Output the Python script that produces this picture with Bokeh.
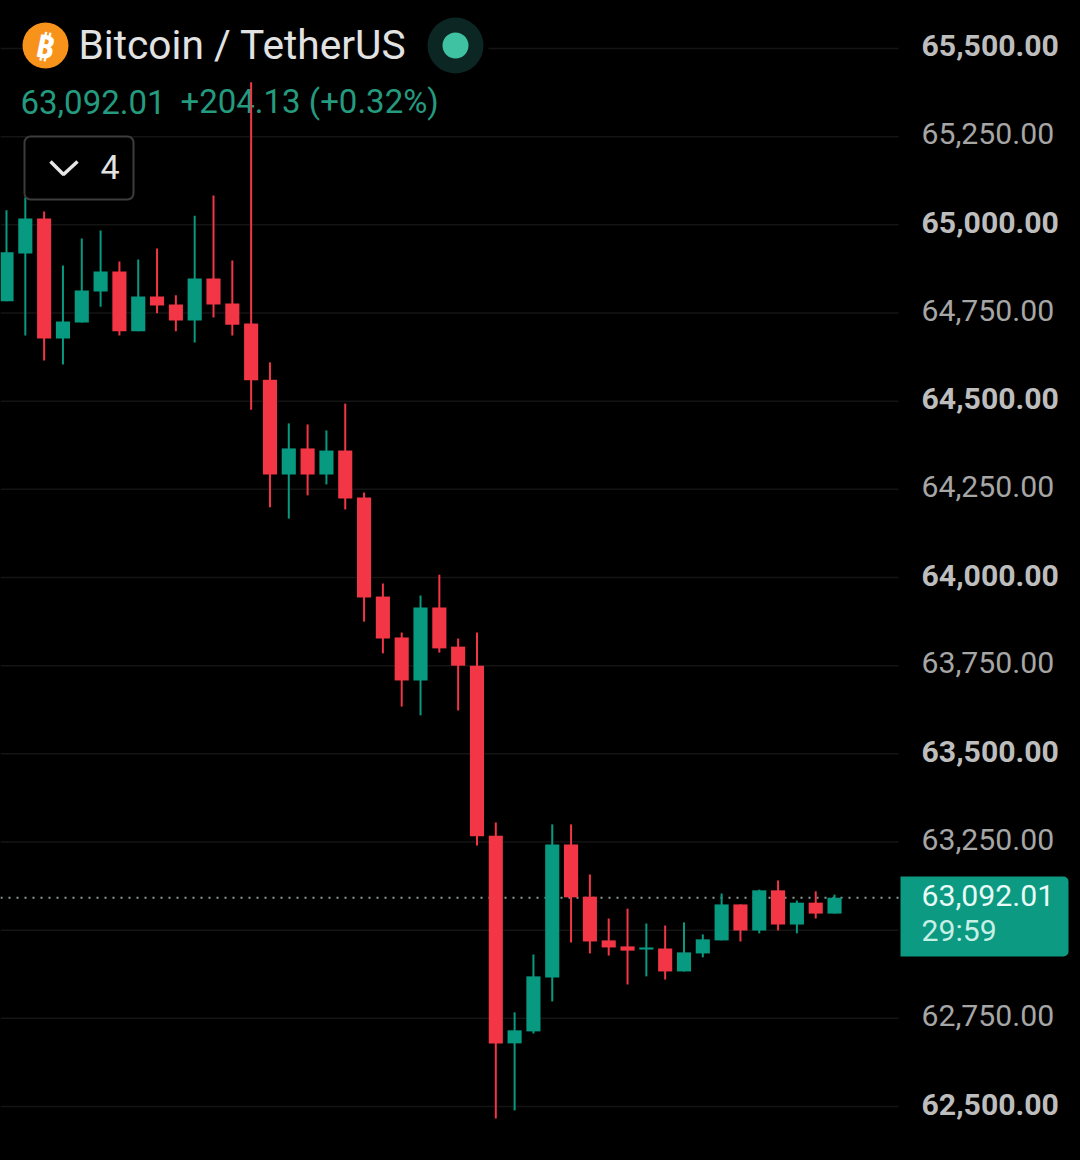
from bokeh.plotting import figure
from bokeh.models import Range1d, BoxAnnotation, ColumnDataSource
from bokeh.core.properties import value
from bokeh.embed import file_html
from bokeh.resources import INLINE

opens = [64783,64919,65018,64678,64723,64811,64868,64698,64797,64774,64729,64848,64777,64720,64561,
         64292,64366,64292,64360,64227,63946,63830,63708,63915,63804,63750,63268,62679,62713,62866,
         63243,63095,62971,62954,62945,62948,62883,62934,62971,63073,62999,63113,63016,63078,63047]
highs = [65041,65078,65038,64885,64961,64984,64896,64902,64933,64800,65026,65083,64899,65404,64610,
         64437,64434,64417,64493,64241,63983,63844,63949,64008,63827,63844,63305,62767,62931,63300,
         63300,63158,63033,63061,63019,63013,63022,62988,63104,63073,63115,63141,63084,63110,63101]
lows = [64783,64686,64615,64604,64723,64768,64686,64698,64749,64698,64666,64737,64686,64476,64199,
        64167,64233,64264,64193,63875,63785,63634,63609,63787,63623,63240,62466,62489,62707,62798,
        62965,62934,62928,62846,62869,62860,62883,62923,62971,62968,62991,62999,62991,63033,63047]
closes = [64922,65018,64678,64726,64814,64868,64698,64797,64771,64729,64848,64774,64717,64559,64292,
          64366,64292,64360,64224,63943,63827,63708,63915,63799,63750,63266,62679,62716,62869,63243,
          63093,62968,62951,62942,62951,62883,62937,62974,63073,62999,63113,63016,63078,63047,63092]
tick_values = [65500,65250,65000,64750,64500,64250,64000,63750,63500,63250,62750,62500]
tick_labels = ["65,500.00","65,250.00","65,000.00","64,750.00","64,500.00","64,250.00",
               "64,000.00","63,750.00","63,500.00","63,250.00","62,750.00","62,500.00"]
grid_values = [65500,65250,65000,64750,64500,64250,64000,63750,63500,63250,63000,62750,62500]
last_price = 63092.01
title_text = "Bitcoin / TetherUS"
price_text = "63,092.01"
change_text = "+204.13 (+0.32%)"
countdown_text = "29:59"
interval_text = "4"

RED, GREEN = "#f23645", "#089981"
FONT = value("Roboto")

p = figure(width=1080, height=1160, output_backend="svg", toolbar_location=None,
           x_range=Range1d(-0.3188, 57.07), y_range=Range1d(62346.9, 65636.1),
           background_fill_color="#000000", border_fill_color="#000000",
           min_border=0, outline_line_color=None)
p.axis.visible = False
p.grid.visible = False
p.extra_x_ranges = {"px": Range1d(0, 1080)}
p.extra_y_ranges = {"px": Range1d(1160, 0)}
PX = dict(x_range_name="px", y_range_name="px")

# grid and last price line
p.segment(x0=[0]*len(grid_values), x1=[898]*len(grid_values), y0=grid_values, y1=grid_values,
          x_range_name="px", line_color="#141414", line_width=1.5)
p.segment(x0=[0], x1=[900], y0=[last_price], y1=[last_price], x_range_name="px",
          line_color="#8a9e99", line_width=2, line_dash="2 6")

# header background hides the top grid line
p.quad(left=[30], right=[488], top=[20], bottom=[72], fill_color="#000000", line_color=None, **PX)

# header
p.scatter(x=[45], y=[45], size=46, marker="circle", fill_color="#f7931a", line_color=None, **PX)
p.text(x=[45], y=[45], text=["₿"], text_font=value("Noto Sans"), text_font_size="32px", text_font_style="bold",
       text_color="#ffffff", text_align="center", text_baseline="middle", angle=[-0.2], **PX)
p.text(x=[78], y=[44], text=[title_text], text_font=FONT, text_font_size="40.7px",
       text_color="#e2e2e2", text_baseline="middle", **PX)
p.scatter(x=[455], y=[45], size=56, marker="circle", fill_color="#0c2723", line_color=None, **PX)
p.scatter(x=[455], y=[45], size=26, marker="circle", fill_color="#3fc2a2", line_color=None, **PX)
p.text(x=[20], y=[101], text=[price_text], text_font=FONT, text_font_size="33px",
       text_color="#249a7e", text_baseline="middle", **PX)
p.text(x=[180], y=[101], text=[change_text], text_font=FONT, text_font_size="33px",
       text_color="#249a7e", text_baseline="middle", **PX)

# candles
xs = list(range(len(opens)))
colors = [GREEN if c >= o else RED for o, c in zip(opens, closes)]
src = ColumnDataSource(dict(x=xs, high=highs, low=lows, top=[max(o, c) for o, c in zip(opens, closes)],
                            bottom=[min(o, c) for o, c in zip(opens, closes)], color=colors))
p.segment(x0="x", x1="x", y0="high", y1="low", source=src, line_color="color", line_width=2)
p.vbar(x="x", width=0.75, top="top", bottom="bottom", source=src, fill_color="color", line_color=None)

# interval button
p.add_layout(BoxAnnotation(left=24, right=133, top=136, bottom=199, x_range_name="px", y_range_name="px",
                           fill_color="#000000", fill_alpha=1, line_color="#3c3c3c", line_alpha=1,
                           line_width=2, border_radius=6))
p.line(x=[50, 63, 77], y=[161, 174, 161], line_color="#e6e6e6", line_width=3.5, level="overlay", **PX)
p.text(x=[100], y=[166], text=[interval_text], text_font=FONT, text_font_size="34px", text_color="#e2e2e2",
       text_baseline="middle", level="overlay", **PX)

# price scale labels
bold = [lab for lab, v in zip(tick_labels, tick_values) if v % 500 == 0]
bold_v = [v for v in tick_values if v % 500 == 0]
norm = [lab for lab, v in zip(tick_labels, tick_values) if v % 500 != 0]
norm_v = [v for v in tick_values if v % 500 != 0]
p.text(x=[921]*len(bold), y=bold_v, text=bold, x_range_name="px", text_font=FONT, text_font_size="30.2px",
       text_font_style="bold", text_color="#bdbdbd", text_baseline="middle", y_offset=-2.5)
p.text(x=[921]*len(norm), y=norm_v, text=norm, x_range_name="px", text_font=FONT, text_font_size="30.2px",
       text_color="#a6a6a6", text_baseline="middle", y_offset=-3)

# last price tag
p.add_layout(BoxAnnotation(left=900, right=1068, top=876, bottom=956, x_range_name="px", y_range_name="px",
                           fill_color="#0c9a82", fill_alpha=1, line_color=None,
                           border_radius=dict(top_left=0, top_right=5, bottom_right=5, bottom_left=0)))
p.text(x=[921], y=[895], text=[price_text], text_font=FONT, text_font_size="30.2px", text_color="#e8fbf6",
       text_baseline="middle", level="overlay", **PX)
p.text(x=[921], y=[930], text=[countdown_text], text_font=FONT, text_font_size="30.2px", text_color="#c6efe5",
       text_baseline="middle", level="overlay", **PX)

html = file_html(p, INLINE)
html = html.replace("<head>", "<head><style>html,body{margin:0;padding:0;background:#000;overflow:hidden}</style>", 1)
open("out.html", "w").write(html)
